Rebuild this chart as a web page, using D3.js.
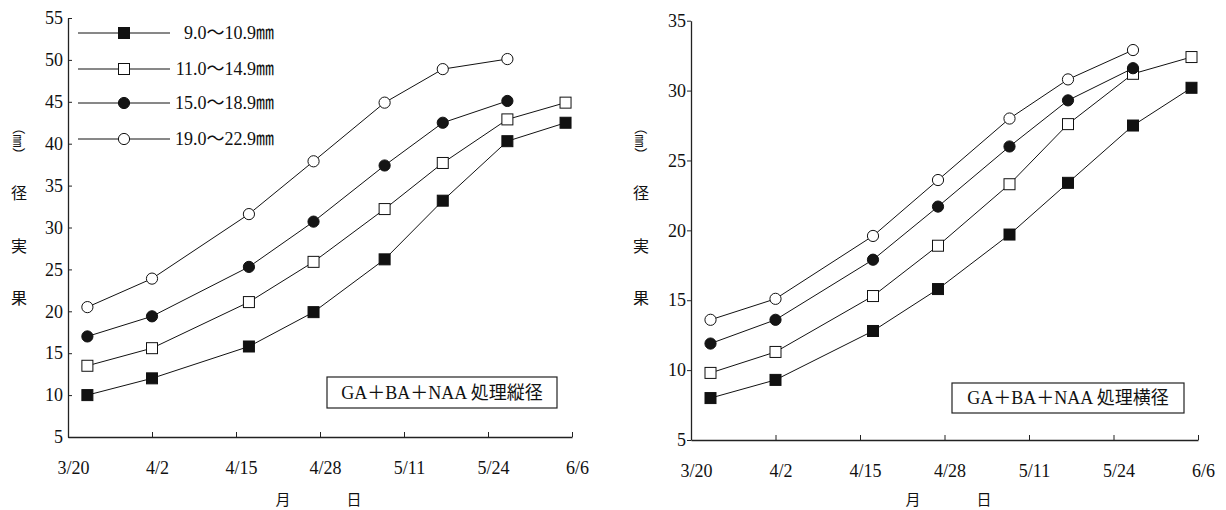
<!DOCTYPE html>
<html>
<head>
<meta charset="utf-8">
<script src="https://cdn.jsdelivr.net/npm/d3@7"></script>
<style>
  body { margin: 0; background: #fff; }
  svg text { fill: #111; }
</style>
</head>
<body>
<svg id="chart" width="1226" height="510"></svg>
<script>
// sampling dates and axis ticks
const sampleDates = ['3/23', '4/2', '4/17', '4/27', '5/8', '5/17', '5/27', '6/5'];
const tickDates = ['3/20', '4/2', '4/15', '4/28', '5/11', '5/24', '6/6'];
const sizeClasses = ['9.0～10.9㎜', '11.0～14.9㎜', '15.0～18.9㎜', '19.0～22.9㎜'];

// 縦径 (left panel)
const lengthSmall = [10.0, 12.0, 15.8, 19.9, 26.2, 33.2, 40.3, 42.5];
const lengthMid = [13.5, 15.6, 21.1, 25.9, 32.2, 37.7, 42.9, 44.9];
const lengthLarge = [17.0, 19.4, 25.3, 30.7, 37.4, 42.5, 45.1];
const lengthXL = [20.5, 23.9, 31.6, 37.9, 44.9, 48.9, 50.1];

// 横径 (right panel)
const widthSmall = [8.0, 9.3, 12.8, 15.8, 19.7, 23.4, 27.5, 30.2];
const widthMid = [9.8, 11.3, 15.3, 18.9, 23.3, 27.6, 31.2, 32.4];
const widthLarge = [11.9, 13.6, 17.9, 21.7, 26.0, 29.3, 31.6];
const widthXL = [13.6, 15.1, 19.6, 23.6, 28.0, 30.8, 32.9];

const yTicksLeft = [5, 10, 15, 20, 25, 30, 35, 40, 45, 50, 55];
const yTicksRight = [5, 10, 15, 20, 25, 30, 35];

const SERIF = "'Liberation Serif', 'DejaVu Serif', 'Times New Roman', 'Noto Sans CJK JP', serif";
const CJK = "'Noto Sans CJK JP', sans-serif";

const parseDay = d3.timeParse('%Y/%m/%d');
const toDate = s => parseDay('2000/' + s);
const fmt = d3.timeFormat('%-m/%-d');

// marker styles per size class
const markers = [
  { shape: 'square', fill: '#111' },
  { shape: 'square', fill: '#fff' },
  { shape: 'circle', fill: '#151515' },
  { shape: 'circle', fill: '#fff' }
];

const svg = d3.select('#chart');

function drawMarker(g, m, cx, cy) {
  if (m.shape === 'square') {
    g.append('rect')
      .attr('x', cx - 5.5).attr('y', cy - 5.5)
      .attr('width', 11).attr('height', 11)
      .attr('fill', m.fill).attr('stroke', '#111').attr('stroke-width', 1);
  } else {
    g.append('circle')
      .attr('cx', cx).attr('cy', cy).attr('r', 5.6)
      .attr('fill', m.fill).attr('stroke', '#111').attr('stroke-width', 1);
  }
}

function drawPanel(p) {
  const x = d3.scaleTime()
    .domain([toDate('3/20'), toDate('6/6')])
    .range([p.left, p.right]);
  const y = d3.scaleLinear()
    .domain([5, p.yMax])
    .range([p.bottom, p.top]);

  const g = svg.append('g');

  // x axis
  const xAxis = g.append('g')
    .attr('transform', `translate(0,${p.bottom})`)
    .call(d3.axisBottom(x).tickValues(tickDates.map(toDate)).tickFormat(fmt).tickSizeInner(-5).tickSizeOuter(0));
  xAxis.select('.domain').attr('stroke', '#222').attr('stroke-width', 1.3);
  xAxis.selectAll('.tick line').attr('stroke', '#222');
  xAxis.selectAll('.tick text')
    .attr('y', 24).attr('dx', 5)
    .style('font-family', SERIF).style('font-size', '18px');

  // y axis
  const yAxis = g.append('g')
    .attr('transform', `translate(${p.left},0)`)
    .call(d3.axisLeft(y).tickValues(p.yTicks).tickSizeInner(p.yTickSize).tickSizeOuter(0));
  yAxis.select('.domain').attr('stroke', '#222').attr('stroke-width', 1.3);
  yAxis.selectAll('.tick line').attr('stroke', '#222');
  yAxis.selectAll('.tick text')
    .attr('x', -5)
    .style('font-family', SERIF).style('font-size', '18px');

  // y label (vertical)
  const lab = g.append('g');
  [['果', 297], ['実', 245], ['径', 192]].forEach(([t, yy]) => {
    lab.append('text').attr('x', p.labelX).attr('y', yy)
      .attr('text-anchor', 'middle').attr('dominant-baseline', 'central')
      .style('font-family', CJK).style('font-size', '16px').text(t);
  });
  lab.append('text')
    .attr('transform', `translate(${p.labelX},141) rotate(90)`)
    .attr('text-anchor', 'middle').attr('dominant-baseline', 'central')
    .style('font-family', CJK).style('font-size', '13px').text('（㎜）');

  // x label
  g.append('text').attr('x', p.monthX).attr('y', 498)
    .attr('text-anchor', 'middle').attr('dominant-baseline', 'central')
    .style('font-family', CJK).style('font-size', '15px').text('月');
  g.append('text').attr('x', p.monthX + 71).attr('y', 498)
    .attr('text-anchor', 'middle').attr('dominant-baseline', 'central')
    .style('font-family', CJK).style('font-size', '15px').text('日');

  // series
  const line = d3.line()
    .x((d, i) => x(toDate(sampleDates[i])))
    .y(d => y(d));
  p.series.forEach(vals => {
    g.append('path')
      .attr('d', line(vals))
      .attr('fill', 'none').attr('stroke', '#111').attr('stroke-width', 1);
  });
  p.series.forEach((vals, k) => {
    const mg = g.append('g');
    vals.forEach((v, i) => drawMarker(mg, markers[k], x(toDate(sampleDates[i])), y(v)));
  });

  // treatment box
  const bx = g.append('g');
  bx.append('rect')
    .attr('x', p.box[0]).attr('y', p.box[1])
    .attr('width', p.box[2]).attr('height', p.box[3])
    .attr('fill', '#fff').attr('stroke', '#222').attr('stroke-width', 1.2);
  bx.append('text')
    .attr('x', p.box[0] + p.box[2] / 2).attr('y', p.box[1] + p.box[3] / 2)
    .attr('text-anchor', 'middle').attr('dominant-baseline', 'central')
    .style('font-family', SERIF).style('font-size', '18px').text(p.title);

  return { x, y, g };
}

drawPanel({
  left: 68, right: 572, top: 18, bottom: 437, yMax: 55, yTicks: yTicksLeft, yTickSize: -4,
  labelX: 19, monthX: 283,
  series: [lengthSmall, lengthMid, lengthLarge, lengthXL],
  box: [327, 377, 230, 31], title: 'GA＋BA＋NAA 処理縦径'
});

drawPanel({
  left: 691, right: 1198, top: 20.7, bottom: 440, yMax: 35, yTicks: yTicksRight, yTickSize: 4,
  labelX: 641, monthX: 913,
  series: [widthSmall, widthMid, widthLarge, widthXL],
  box: [952, 383, 232, 30], title: 'GA＋BA＋NAA 処理横径'
});

// legend (left panel only)
const legend = svg.append('g');
const legendRows = [33, 69, 103, 139];
sizeClasses.forEach((name, k) => {
  const ly = legendRows[k];
  legend.append('line')
    .attr('x1', 78).attr('x2', 170).attr('y1', ly).attr('y2', ly)
    .attr('stroke', '#111').attr('stroke-width', 1);
  drawMarker(legend, markers[k], 124, ly);
  legend.append('text')
    .attr('x', 274).attr('y', ly)
    .attr('text-anchor', 'end').attr('dominant-baseline', 'central')
    .style('font-family', SERIF).style('font-size', '18px').text(name);
});
</script>
</body>
</html>
